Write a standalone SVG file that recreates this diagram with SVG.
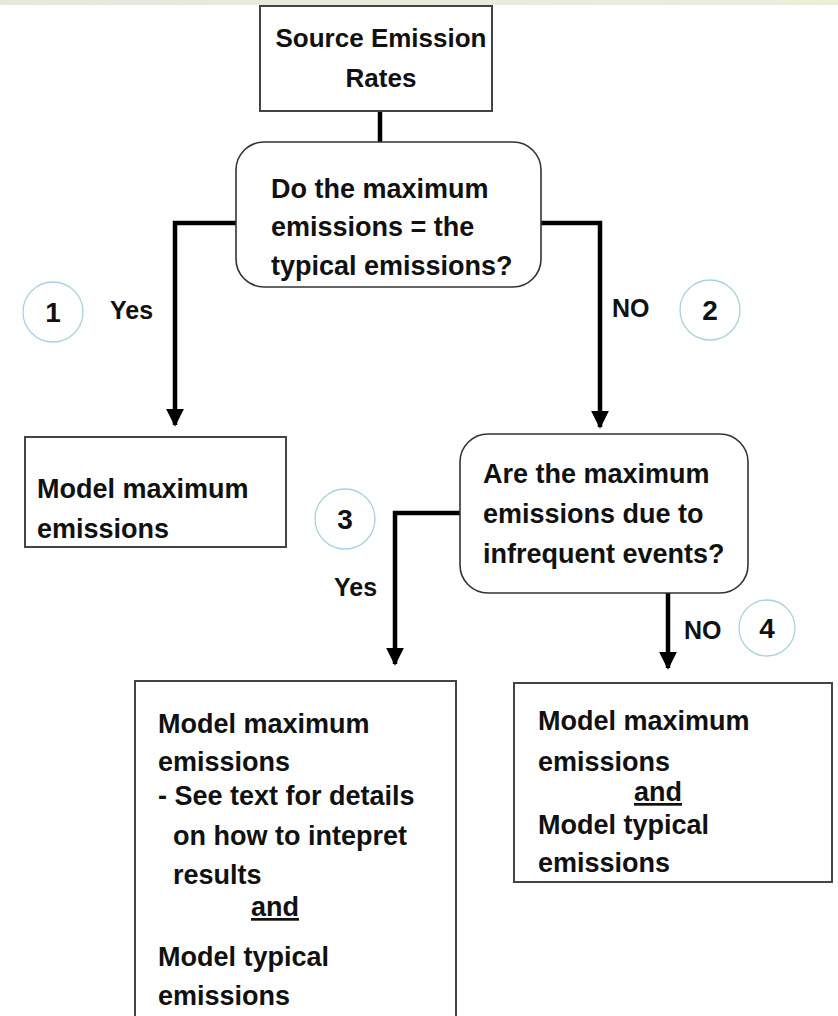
<svg xmlns="http://www.w3.org/2000/svg" width="838" height="1016" viewBox="0 0 838 1016">
<defs>
<linearGradient id="topg" x1="0" y1="0" x2="1" y2="0">
<stop offset="0" stop-color="#e4e9dc"/>
<stop offset="1" stop-color="#e9efd9"/>
</linearGradient>
<marker id="arr" viewBox="0 0 10 10" refX="9" refY="5" markerWidth="4" markerHeight="4.2" markerUnits="strokeWidth" orient="auto">
<path d="M0,0 L10,5 L0,10 Z" fill="#000"/>
</marker>
<style>
.box{fill:#fff;stroke:#444;stroke-width:2}
.dec{fill:#fff;stroke:#333;stroke-width:1.6}
.t{font-family:"Liberation Sans",Arial,sans-serif;font-weight:bold;font-size:27px;fill:#111}
.lbl{font-family:"Liberation Sans",Arial,sans-serif;font-weight:bold;font-size:25px;fill:#111}
.num{font-family:"Liberation Sans",Arial,sans-serif;font-weight:bold;font-size:28px;fill:#111;text-anchor:middle}
.circ{fill:#fff;stroke:#a9d2df;stroke-width:1.3}
.con{fill:none;stroke:#000;stroke-width:4.5}
</style>
</defs>
<rect x="0" y="0" width="838" height="1016" fill="#fff"/>
<rect x="0" y="0" width="838" height="5" fill="url(#topg)"/>

<g id="connectors">
<path class="con" d="M380,111 V142"/>
<path class="con" d="M236,223 H175 V425" marker-end="url(#arr)"/>
<path class="con" d="M541,223 H600 V427" marker-end="url(#arr)"/>
<path class="con" d="M460,513 H395 V664" marker-end="url(#arr)"/>
<path class="con" d="M668,593 V668" marker-end="url(#arr)"/>
</g>

<g id="n-source">
<rect class="box" x="260" y="6" width="232" height="105"/>
<text class="t" x="381" y="47" text-anchor="middle" style="font-size:26px">Source Emission</text>
<text class="t" x="381" y="87" text-anchor="middle" style="font-size:26px">Rates</text>
</g>

<g id="n-decision1">
<rect class="dec" x="236" y="142" width="305" height="145" rx="28"/>
<text class="t" x="271" y="198">Do the maximum</text>
<text class="t" x="271" y="236">emissions = the</text>
<text class="t" x="271" y="275">typical emissions?</text>
</g>

<g id="n-max">
<rect class="box" x="25" y="437" width="261" height="110"/>
<text class="t" x="37" y="498">Model maximum</text>
<text class="t" x="37" y="538">emissions</text>
</g>

<g id="n-decision2">
<rect class="dec" x="460" y="434" width="288" height="159" rx="28"/>
<text class="t" x="483" y="483">Are the maximum</text>
<text class="t" x="483" y="523">emissions due to</text>
<text class="t" x="483" y="563">infrequent events?</text>
</g>

<g id="n-yes3">
<rect class="box" x="135" y="681" width="321" height="345"/>
<text class="t" x="158" y="733">Model maximum</text>
<text class="t" x="158" y="771">emissions</text>
<text class="t" x="158" y="805">- See text for details</text>
<text class="t" x="173" y="845">on how to intepret</text>
<text class="t" x="173" y="884">results</text>
<text class="t" x="251" y="916" text-decoration="underline">and</text>
<text class="t" x="158" y="966">Model typical</text>
<text class="t" x="158" y="1005">emissions</text>
</g>

<g id="n-no4">
<rect class="box" x="514" y="683" width="318" height="199"/>
<text class="t" x="538" y="730">Model maximum</text>
<text class="t" x="538" y="771">emissions</text>
<text class="t" x="634" y="801" text-decoration="underline">and</text>
<text class="t" x="538" y="834">Model typical</text>
<text class="t" x="538" y="872">emissions</text>
</g>

<g id="labels">
<circle class="circ" cx="53" cy="312" r="30"/>
<text class="num" x="53" y="322">1</text>
<text class="lbl" x="110" y="319">Yes</text>
<text class="lbl" x="612" y="317">NO</text>
<circle class="circ" cx="710" cy="310" r="30"/>
<text class="num" x="710" y="320">2</text>
<circle class="circ" cx="345" cy="519" r="30"/>
<text class="num" x="345" y="529">3</text>
<text class="lbl" x="334" y="596">Yes</text>
<text class="lbl" x="684" y="639">NO</text>
<circle class="circ" cx="767" cy="628" r="28"/>
<text class="num" x="767" y="638">4</text>
</g>
</svg>
